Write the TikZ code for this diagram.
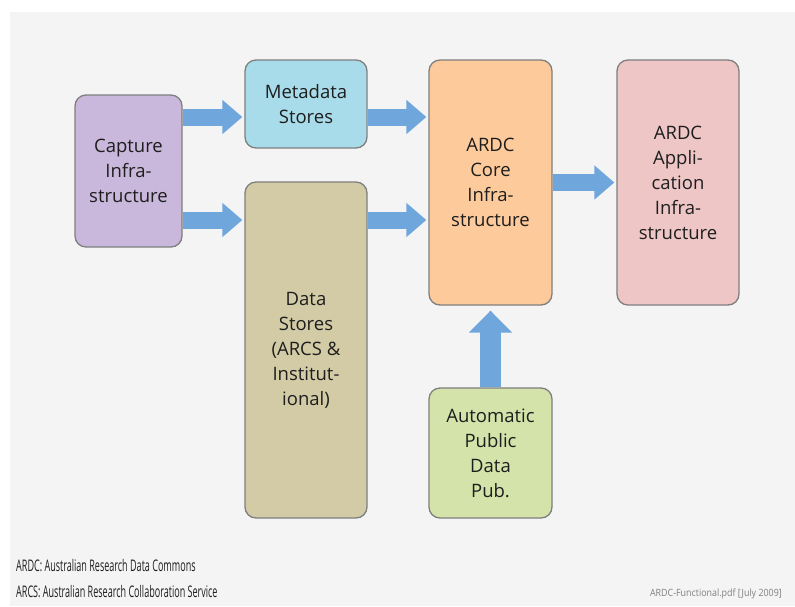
\documentclass[tikz,border=0pt]{standalone}
\usepackage{fontspec}
\setmainfont{Open Sans}
\usetikzlibrary{arrows.meta}
\pgfdeclarelayer{bglayer}
\pgfdeclarelayer{background}
\pgfsetlayers{bglayer,background,main}
\definecolor{bg}{HTML}{F4F4F4}
\definecolor{arrowblue}{HTML}{6FA6DC}
\definecolor{cappurple}{HTML}{C9B8DB}
\definecolor{metablue}{HTML}{A9DCEA}
\definecolor{datakhaki}{HTML}{D2CBA6}
\definecolor{corepeach}{HTML}{FDCA9C}
\definecolor{apppink}{HTML}{EEC6C6}
\definecolor{pubgreen}{HTML}{D4E3AA}
\definecolor{edgegray}{HTML}{7F7F7F}
\definecolor{fntgray}{HTML}{1E1E1E}
\begin{document}
\begin{tikzpicture}[x=1pt,y=-1pt,
  box/.style={draw=edgegray,line width=1.3pt,rounded corners=11pt,align=center,
    inner sep=0pt,font=\fontsize{18.5}{25}\selectfont,text=fntgray},
  bigarrow/.style={draw=arrowblue,line width=17pt,
    -{Triangle[length=20pt,width=33pt]},shorten >=2pt},
  note/.style={anchor=base west,inner sep=0pt,text=fntgray,font=\fontsize{16}{18}\selectfont}]
\useasboundingbox (0,0) rectangle (795,606);
\begin{pgfonlayer}{bglayer}
\fill[white] (0,0) rectangle (795,606);
\fill[bg] (10,12) rectangle (795,606);
\end{pgfonlayer}
\node[box,fill=cappurple,minimum width=107pt,minimum height=152pt] (cap) at (128.5,171) {Capture\\Infra-\\structure};
\node[box,fill=metablue,minimum width=122pt,minimum height=88pt] (meta) at (306,104) {Metadata\\Stores};
\node[box,fill=datakhaki,minimum width=122pt,minimum height=336pt] (data) at (306,350) {Data\\Stores\\(ARCS \&\\Institut-\\ional)};
\node[box,fill=corepeach,minimum width=123pt,minimum height=245pt] (core) at (490.5,182.5) {ARDC\\Core\\Infra-\\structure};
\node[box,fill=apppink,minimum width=122pt,minimum height=245pt] (app) at (678,182.5) {ARDC\\Appli-\\cation\\Infra-\\structure};
\node[box,fill=pubgreen,minimum width=123pt,minimum height=130pt] (pub) at (490.5,453) {Automatic\\Public\\Data\\Pub.};
\begin{pgfonlayer}{background}
\draw[bigarrow] (cap.east |- 0,117) -- (meta.west |- 0,117);
\draw[bigarrow] (cap.east |- 0,220) -- (data.west |- 0,220);
\draw[bigarrow] (meta.east |- 0,117) -- (core.west |- 0,117);
\draw[bigarrow] (data.east |- 0,220) -- (core.west |- 0,220);
\draw[bigarrow] (core.east) -- (app.west);
\draw[bigarrow,line width=21pt,-{Triangle[length=22pt,width=42pt]},shorten >=5pt] (pub.north) -- (core.south);
\end{pgfonlayer}
\node[note] (n1) at (16,571) {\scalebox{0.565}[1]{ARDC: Australian Research Data Commons}};
\node[note] (n2) at (16,597) {\scalebox{0.565}[1]{ARCS: Australian Research Collaboration Service}};
\node[anchor=base east,inner sep=0pt,text=gray,font=\fontsize{10}{11}\selectfont] (n3) at (782,596) {\scalebox{0.89}[1]{ARDC-Functional.pdf [July 2009]}};
\end{tikzpicture}
\end{document}
